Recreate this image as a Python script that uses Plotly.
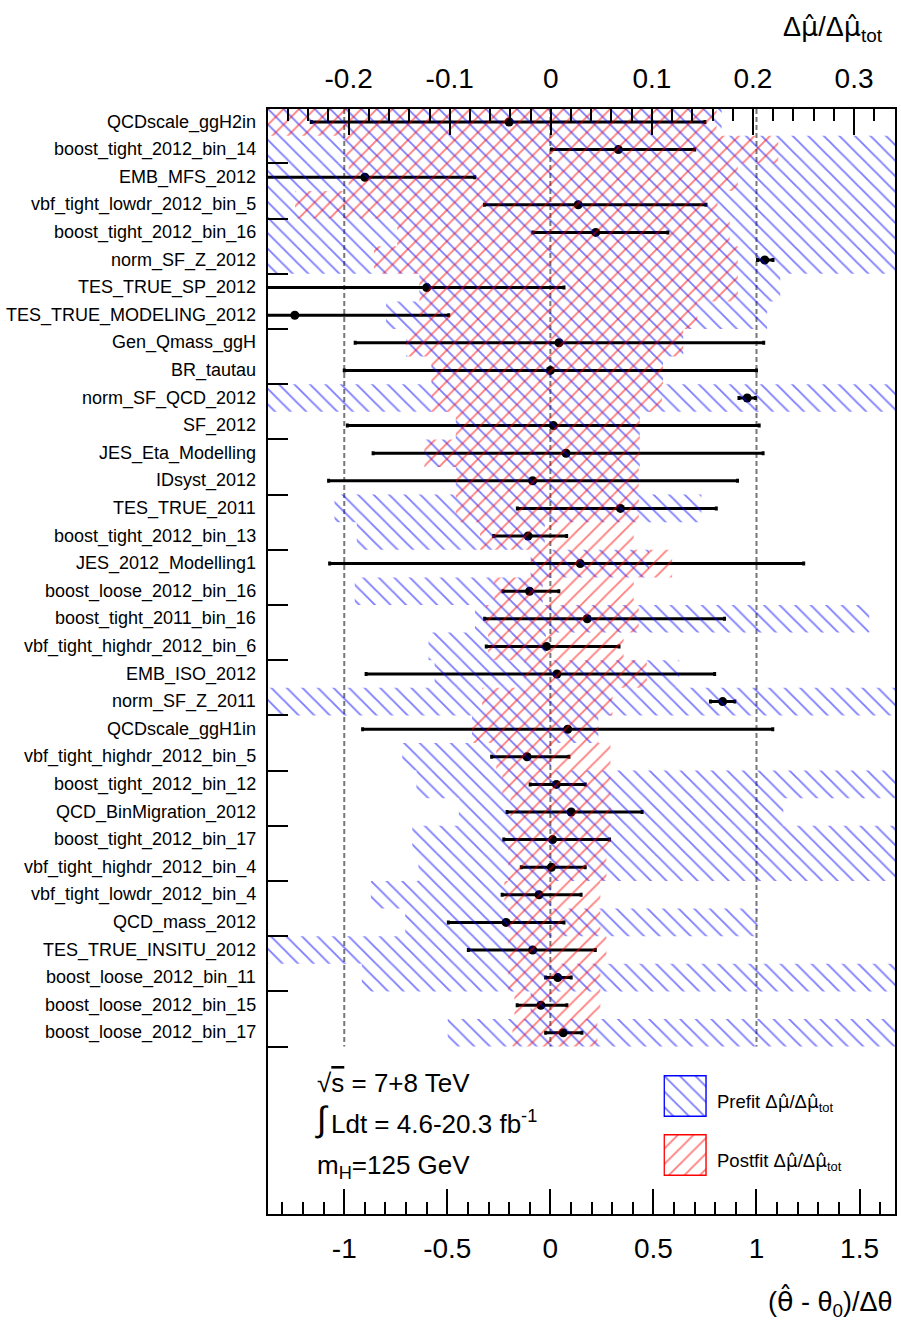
import plotly.graph_objects as go

# ---------------- data ----------------
labels = [
    "QCDscale_ggH2in", "boost_tight_2012_bin_14", "EMB_MFS_2012", "vbf_tight_lowdr_2012_bin_5",
    "boost_tight_2012_bin_16", "norm_SF_Z_2012", "TES_TRUE_SP_2012", "TES_TRUE_MODELING_2012",
    "Gen_Qmass_ggH", "BR_tautau", "norm_SF_QCD_2012", "SF_2012", "JES_Eta_Modelling",
    "IDsyst_2012", "TES_TRUE_2011", "boost_tight_2012_bin_13", "JES_2012_Modelling1",
    "boost_loose_2012_bin_16", "boost_tight_2011_bin_16", "vbf_tight_highdr_2012_bin_6",
    "EMB_ISO_2012", "norm_SF_Z_2011", "QCDscale_ggH1in", "vbf_tight_highdr_2012_bin_5",
    "boost_tight_2012_bin_12", "QCD_BinMigration_2012", "boost_tight_2012_bin_17",
    "vbf_tight_highdr_2012_bin_4", "vbf_tight_lowdr_2012_bin_4", "QCD_mass_2012",
    "TES_TRUE_INSITU_2012", "boost_loose_2012_bin_11", "boost_loose_2012_bin_15",
    "boost_loose_2012_bin_17",
]

# pulls (theta_hat - theta0)/dtheta and their error-bar ends
pull = [-0.20, 0.33, -0.90, 0.135, 0.22, 1.04, -0.60, -1.24, 0.042, 0.0, 0.955, 0.015, 0.076,
        -0.086, 0.34, -0.108, 0.145, -0.101, 0.179, -0.019, 0.032, 0.836, 0.084, -0.113, 0.029,
        0.101, 0.011, 0.005, -0.055, -0.215, -0.086, 0.036, -0.046, 0.062]
pull_lo = [-1.16, 0.005, -1.60, -0.32, -0.085, 1.005, -1.45, -2.0, -0.947, -1.0, 0.915, -0.985,
           -0.86, -1.076, -0.16, -0.275, -1.071, -0.23, -0.319, -0.311, -0.894, 0.777, -0.911,
           -0.285, -0.098, -0.21, -0.226, -0.141, -0.234, -0.495, -0.398, -0.023, -0.161, -0.023]
pull_hi = [0.75, 0.70, -0.367, 0.755, 0.57, 1.08, 0.066, -0.493, 1.035, 1.0, 0.995, 1.013, 1.032,
           0.908, 0.805, 0.079, 1.229, 0.041, 0.845, 0.333, 0.797, 0.895, 1.079, 0.09, 0.169,
           0.445, 0.287, 0.169, 0.149, 0.066, 0.218, 0.101, 0.080, 0.153]

# prefit impact band (delta mu / delta mu_tot)
pre_lo = [-0.30, -0.30, -0.30, -0.30, -0.30, -0.30, -0.130, -0.163, -0.143, -0.118, -0.30, -0.094,
          -0.125, -0.094, -0.214, -0.192, -0.020, -0.194, -0.075, -0.121, -0.115, -0.30, -0.078,
          -0.147, -0.133, -0.091, -0.137, -0.131, -0.178, -0.144, -0.30, -0.187, -0.020, -0.102]
pre_hi = [0.169, 0.36, 0.36, 0.36, 0.36, 0.36, 0.227, 0.214, 0.131, 0.111, 0.36, 0.088, 0.088,
          0.087, 0.149, -0.006, 0.097, -0.008, 0.315, -0.005, 0.127, 0.36, 0.047, 0.0, 0.36,
          0.230, 0.36, 0.36, 0.0, 0.2045, 0.0, 0.36, 0.005, 0.36]

# postfit impact band
post_lo = [-0.30, -0.2025, -0.20, -0.253, -0.152, -0.175, -0.130, -0.130, -0.143, -0.118, -0.118,
           -0.094, -0.125, -0.094, -0.094, -0.070, -0.020, -0.056, -0.064, -0.062, -0.026, -0.068,
           -0.078, -0.054, -0.048, -0.040, -0.042, -0.042, -0.046, -0.042, -0.042, -0.042, -0.036,
           -0.038]
post_hi = [0.164, 0.225, 0.185, 0.165, 0.177, 0.185, 0.185, 0.145, 0.131, 0.111, 0.110, 0.088,
           0.088, 0.087, 0.087, 0.082, 0.120, 0.082, 0.087, 0.072, 0.095, 0.061, 0.047, 0.059,
           0.059, 0.059, 0.059, 0.055, 0.049, 0.049, 0.055, 0.049, 0.049, 0.046]

bottom_tickvals = [-1, -0.5, 0, 0.5, 1, 1.5]
bottom_ticktext = ["-1", "-0.5", "0", "0.5", "1", "1.5"]
top_tickvals = [-0.2, -0.1, 0, 0.1, 0.2, 0.3]
top_ticktext = ["-0.2", "-0.1", "0", "0.1", "0.2", "0.3"]
ref_lines = [-1, 0, 1]

# ---------------- layout geometry ----------------
W, H = 901, 1322
L, R, T, B = 268, 897, 109, 1214
FONT = "Liberation Sans, Arial, Helvetica, sans-serif"
HAT = "<span style='font-family:DejaVu Sans'>{}</span>"
MUHAT = HAT.format("μ̂")
THHAT = HAT.format("θ̂")

def fx(p):
    return (p - L) / (R - L)

def fy(p):
    return (B - p) / (B - T)

n = len(labels)
yrow = [-k for k in range(n)]
Y_RANGE = [-39.565, 0.471]
X_RANGE = [-1.37, 1.672]
X2_RANGE = [-0.2798, 0.3405]
ytick_vals = [-(2 * i + 1.5) for i in range(n // 2)]

PAT_SIZE, PAT_SOL = 11, 0.17

fig = go.Figure()

def band(lo, hi, shape, color):
    return go.Bar(
        y=yrow, base=lo, x=[h - l for l, h in zip(lo, hi)], orientation="h", width=1,
        xaxis="x2", yaxis="y", showlegend=False, hoverinfo="skip",
        marker=dict(color="rgba(0,0,0,0)", line=dict(width=0),
                    pattern=dict(shape=shape, fgcolor=color, bgcolor="rgba(0,0,0,0)",
                                 size=PAT_SIZE, solidity=PAT_SOL, fillmode="overlay")),
    )

fig.add_trace(band(pre_lo, pre_hi, "\\", "#0000ff"))
fig.add_trace(band(post_lo, post_hi, "/", "#ff0000"))

# dashed reference lines
lx, ly = [], []
for v in ref_lines:
    lx += [v, v, None]
    ly += [Y_RANGE[1], ytick_vals[-1], None]
fig.add_trace(go.Scatter(x=lx, y=ly, mode="lines", xaxis="x", yaxis="y", showlegend=False,
                         line=dict(color="#777777", width=2, dash="5px,3px"), hoverinfo="skip"))

# pulls
fig.add_trace(go.Scatter(
    x=pull, y=yrow, mode="markers", xaxis="x", yaxis="y", showlegend=False,
    marker=dict(color="black", size=9),
    error_x=dict(type="data", symmetric=False,
                 array=[h - p for p, h in zip(pull, pull_hi)],
                 arrayminus=[p - l for p, l in zip(pull, pull_lo)],
                 color="black", thickness=3, width=2),
))

# legend boxes (own small subplots)
for ax, color, shape in (("3", "#0000ff", "\\"), ("4", "#ff0000", "/")):
    fig.add_trace(go.Bar(x=[1], base=[0], y=[0], orientation="h", width=1, xaxis="x" + ax,
                         yaxis="y" + ax, showlegend=False, hoverinfo="skip",
                         marker=dict(color="rgba(0,0,0,0)", line=dict(color=color, width=1.5),
                                     pattern=dict(shape=shape, fgcolor=color,
                                                  bgcolor="rgba(0,0,0,0)", size=PAT_SIZE,
                                                  solidity=PAT_SOL, fillmode="overlay"))))

hidden = dict(visible=False, fixedrange=True)

fig.update_layout(
    width=W, height=H, barmode="overlay",
    margin=dict(l=L, r=W - R, t=T, b=H - B, pad=0),
    paper_bgcolor="white", plot_bgcolor="rgba(0,0,0,0)",
    font=dict(family=FONT, color="black"),
    xaxis=dict(domain=[0, 1], range=X_RANGE, tickmode="array", tickvals=bottom_tickvals,
               ticktext=bottom_ticktext, ticks="inside", ticklen=25, tickwidth=2, tickcolor="black",
               minor=dict(dtick=0.1, tick0=0, ticks="inside", ticklen=12, tickwidth=2,
                          tickcolor="black", showgrid=False),
               showline=True, linewidth=2, linecolor="black", mirror=True, showgrid=False,
               zeroline=False, tickfont=dict(size=28), ticklabelstandoff=8),
    xaxis2=dict(overlaying="x", side="top", range=X2_RANGE, tickmode="array",
                tickvals=top_tickvals, ticktext=top_ticktext, ticks="inside", ticklen=26,
                tickwidth=2, tickcolor="black",
                minor=dict(dtick=0.02, tick0=0, ticks="inside", ticklen=12, tickwidth=2,
                           tickcolor="black", showgrid=False),
                showline=False, showgrid=False, zeroline=False, tickfont=dict(size=28),
                ticklabelstandoff=14),
    yaxis=dict(domain=[0, 1], range=Y_RANGE, tickmode="array", tickvals=ytick_vals,
               showticklabels=False, ticks="inside", ticklen=20, tickwidth=2, tickcolor="black",
               showline=True, linewidth=2, linecolor="black", mirror=True, showgrid=False,
               zeroline=False),
    xaxis3=dict(domain=[fx(664.6), fx(708.3)], range=[-0.02, 1.02], anchor="y3", **hidden),
    yaxis3=dict(domain=[fy(1117), fy(1075)], range=[-0.52, 0.52], anchor="x3", **hidden),
    xaxis4=dict(domain=[fx(664.6), fx(708.3)], range=[-0.02, 1.02], anchor="y4", **hidden),
    yaxis4=dict(domain=[fy(1176), fy(1134)], range=[-0.52, 0.52], anchor="x4", **hidden),
)

ann = []
for lab, yv in zip(labels, yrow):
    ann.append(dict(text=lab, xref="paper", yref="y", x=0, y=yv, xanchor="right",
                    yanchor="middle", xshift=-10, showarrow=False, font=dict(size=18)))

def txt(s, xp, yp, size, xanchor="left", yanchor="middle"):
    ann.append(dict(text=s, xref="paper", yref="paper", x=fx(xp), y=fy(yp), xanchor=xanchor,
                    yanchor=yanchor, showarrow=False, font=dict(size=size)))

txt("√<span style='text-decoration:overline'>s</span> = 7+8 TeV", 315, 1083, 26)
txt("∫", 313, 1119, 35)
txt("Ldt = 4.6-20.3 fb<sup>-1</sup>", 329, 1122, 26)
txt("m<sub>H</sub>=125 GeV", 315, 1166, 26)
txt("Prefit Δ" + MUHAT + "/Δ" + MUHAT + "<sub>tot</sub>", 716, 1103, 18.5)
txt("Postfit Δ" + MUHAT + "/Δ" + MUHAT + "<sub>tot</sub>", 716, 1162, 18.5)
txt("Δ" + MUHAT + "/Δ" + MUHAT + "<sub>tot</sub>", 887, 28, 27, xanchor="right")
txt("(" + THHAT + " - θ<sub>0</sub>)/Δθ", 897, 1302, 27, xanchor="right")

fig.update_layout(annotations=ann)
fig.write_html(
    "out.html",
    config={"displayModeBar": False},
    post_script="document.body.style.margin='0';document.body.style.padding='0';"
                "document.body.style.overflow='hidden';",
)
